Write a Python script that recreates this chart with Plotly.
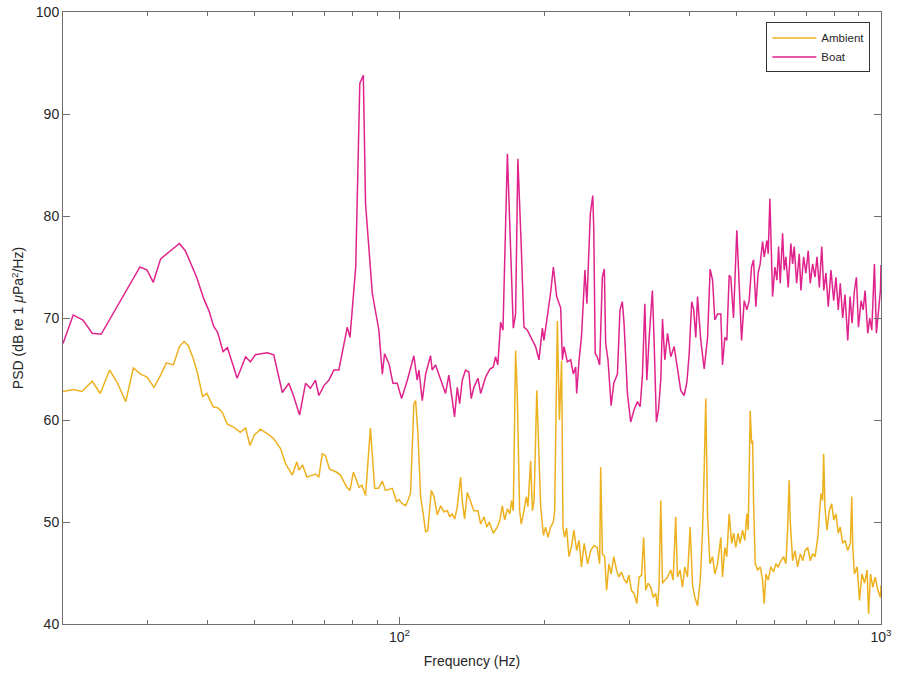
import plotly.graph_objects as go

# ---------------- data (frequency in Hz, PSD in dB re 1 uPa^2/Hz) ----------------
boat_f = [20, 21, 22, 23, 24, 28.9, 29.9, 30.8, 31.9, 34.9, 35.9, 37.9, 39.2, 40.2, 41.1, 41.9,
          43.0, 43.9, 46.0, 47.9, 49.0, 50.2, 53.1, 54.8, 57.1, 58.9, 60.3, 62.0, 63.8, 65.3,
          66.9, 68.0, 69.7, 71.3, 73.1, 74.8, 77.9, 78.9, 81.1, 82.7, 84.1, 85.0, 87.8, 90.6,
          92.1, 93.1, 95.1, 96.9, 98.9, 101.0, 103.8, 107.1, 108.8, 109.7, 111.5, 113.3, 116.0,
          116.9, 118.8, 121.7, 124.6, 126.6, 128.6, 130.1, 131.8, 133.3, 135.0, 137.1, 139.3,
          140.9, 142.7, 145.5, 147.4, 150.9, 154.1, 156.6, 158.3, 160.0, 162.2, 164.0, 167.5,
          170.1, 172.3, 174.2, 176.1, 179.0, 181.3, 184.3, 187.8, 191.7, 194.8, 198.0, 199.5,
          202.7, 206.0, 208.7, 212.0, 216.1, 217.9, 219.6, 223.1, 226.7, 229.6, 232.2, 233.3,
          236.0, 238.7, 242.7, 245.0, 249.0, 252.0, 253.2, 254.9, 257.4, 260.4, 263.8, 266.3,
          268.0, 271.0, 275.1, 278.6, 283.5, 287.0, 290.2, 292.6, 297.4, 302.1, 307.0, 312.0,
          316.0, 319.4, 323.2, 326.3, 329.7, 335.1, 337.7, 341.6, 345.0, 348.8, 351.7, 355.6,
          360.3, 365.9, 371.9, 378.0, 383.8, 390.1, 395.2, 399.6, 404.4, 408.3, 412.4, 415.8,
          422.4, 429.3, 436.3, 441.7, 446.9, 451.7, 457.7, 461.2, 464.8, 468.6, 473.8, 478.3,
          483.8, 487.6, 493.9, 501.8, 507.4, 513.4, 519.9, 526.5, 532.3, 538.4, 543.6, 549.6,
          555.7, 561.1, 567.6, 572.1, 579.5, 583.1, 587.8, 590.5, 595.4, 602.0, 607.8, 612.8,
          617.5, 624.6, 629.4, 634.5, 641.6, 649.9, 655.2, 660.3, 668.0, 676.4, 681.8, 690.7,
          698.3, 706.1, 712.9, 721.2, 729.3, 736.3, 744.6, 753.3, 760.7, 768.5, 777.1, 787.2,
          797.5, 806.2, 815.2, 823.0, 832.6, 841.9, 853.0, 862.5, 870.8, 880.6, 889.2, 897.8,
          909.5, 918.3, 926.6, 938.6, 947.7, 956.9, 969.0, 978.3, 989.6, 997.3, 1000]
boat_db = [67.5, 70.3, 69.8, 68.5, 68.4, 75.0, 74.7, 73.5, 75.8, 77.3, 76.6, 74.0, 71.9, 70.7, 69.2, 68.6,
           66.7, 67.1, 64.1, 66.2, 65.7, 66.4, 66.6, 66.4, 62.7, 63.6, 62.3, 60.5, 63.6, 63.1,
           63.9, 62.4, 63.4, 63.9, 64.9, 64.9, 69.1, 68.1, 75.0, 93.0, 93.8, 81.2, 72.4, 68.8,
           64.5, 66.5, 65.5, 63.6, 63.6, 62.1, 63.9, 66.3, 63.9, 64.9, 61.9, 64.5, 66.3,
           64.9, 65.4, 63.9, 62.6, 64.4, 62.3, 60.3, 63.2, 61.6, 63.9, 64.9, 64.7,
           62.1, 63.2, 64.1, 62.6, 64.2, 65.0, 65.2, 66.2, 65.4, 69.6, 68.8, 86.1,
           76.0, 69.0, 70.4, 85.6, 77.0, 69.1, 68.8, 68.1, 67.2, 65.9, 69.0, 67.8,
           70.1, 72.5, 75.0, 72.1, 71.0, 65.9, 67.2, 65.7, 65.9, 64.5, 65.2, 62.6,
           65.9, 68.1, 74.7, 71.4, 80.2, 82.0, 78.6, 66.5, 66.2, 65.4, 74.0, 74.8,
           67.5, 65.9, 61.4, 63.6, 64.5, 70.8, 71.6, 69.5, 62.6, 59.8, 61.0, 61.8,
           61.3, 64.2, 71.4, 63.9, 67.8, 72.7, 68.1, 59.8, 61.0, 63.9, 69.9, 65.9,
           68.5, 66.2, 67.2, 65.2, 62.9, 62.4, 63.7, 66.5, 71.6, 70.8, 68.1, 72.1,
           67.8, 65.0, 68.1, 74.8, 73.7, 69.8, 70.4, 70.4, 70.4, 65.4, 68.1, 67.8,
           74.2, 74.0, 70.0, 78.6, 74.0, 67.8, 71.7, 70.8, 71.7, 75.0, 75.7, 71.1,
           74.4, 75.3, 77.5, 76.0, 77.6, 76.3, 81.7, 77.3, 72.1, 75.0, 73.7, 77.0,
           73.4, 78.3, 74.7, 76.0, 73.0, 77.3, 75.3, 77.0, 73.4, 76.3, 72.7, 76.0,
           74.4, 76.6, 73.4, 75.3, 74.0, 76.0, 73.0, 77.0, 72.7, 74.4, 71.1, 74.7,
           71.7, 74.0, 70.8, 73.4, 70.0, 72.3, 67.8, 72.1, 69.5, 72.7, 74.0, 69.1,
           71.7, 70.8, 72.7, 68.5, 70.0, 68.8, 75.3, 68.5, 71.1, 72.7, 75.2]

amb_f = [20, 21.0, 21.9, 23.0, 23.9, 25.0, 25.9, 27.0, 28.0, 29.0, 29.9, 30.9, 31.9, 32.8, 33.9,
         34.9, 35.7, 36.4, 37.3, 38.0, 39.0, 39.8, 41.0, 41.9, 42.8, 43.9, 45.2, 46.7, 47.9,
         48.9, 49.9, 51.4, 53.0, 54.7, 56.6, 58.0, 59.9, 61.2, 61.8, 62.9, 64.2, 66.9, 68.0,
         69.1, 70.2, 71.5, 73.9, 75.4, 77.7, 78.9, 80.2, 81.5, 82.4, 83.5, 85.0, 87.0, 88.8,
         90.5, 92.1, 93.5, 96.6, 98.6, 99.7, 101.3, 103.0, 104.1, 105.4, 107.1, 108.0, 109.2,
         110.6, 112.0, 113.3, 114.5, 116.4, 117.9, 119.8, 121.7, 123.6, 125.7, 127.2, 128.6,
         130.2, 131.8, 133.9, 135.0, 136.5, 138.3, 140.4, 142.7, 145.5, 147.4, 149.8, 151.8,
         153.6, 156.6, 159.6, 161.6, 163.5, 165.3, 167.5, 169.5, 170.9, 172.3, 174.2, 175.6,
         177.6, 179.0, 181.3, 183.4, 184.8, 187.2, 188.8, 190.3, 192.8, 194.9, 196.4, 199.0,
         201.1, 203.4, 206.0, 208.7, 210.0, 212.7, 214.8, 217.1, 218.5, 220.2, 222.4, 224.8,
         227.4, 230.2, 233.3, 236.0, 238.7, 241.8, 245.8, 249.5, 253.5, 257.4, 260.4, 261.7,
         263.8, 266.7, 269.2, 272.2, 275.1, 278.6, 282.3, 285.4, 288.9, 292.6, 296.4, 299.6,
         303.1, 307.0, 311.0, 314.5, 318.3, 321.3, 324.6, 328.3, 332.5, 336.7, 340.5, 343.3,
         345.9, 348.8, 351.7, 355.6, 360.3, 365.9, 370.0, 374.7, 377.8, 382.5, 387.0, 391.3,
         396.4, 401.4, 406.1, 410.6, 416.0, 421.3, 426.0, 429.3, 432.6, 436.3, 441.3, 446.9,
         451.7, 457.7, 464.8, 468.6, 473.8, 478.3, 483.8, 489.6, 494.2, 499.4, 504.8, 509.6,
         515.6, 521.4, 526.5, 529.8, 535.0, 538.6, 541.2, 543.9, 548.1, 554.5, 561.4, 567.6,
         572.1, 576.6, 583.0, 590.5, 598.2, 604.9, 611.6, 619.5, 627.6, 634.5, 639.7, 644.6,
         647.7, 655.3, 662.6, 671.3, 679.7, 687.6, 695.3, 704.3, 713.2, 721.5, 729.6, 739.2,
         744.9, 750.3, 756.5, 760.1, 764.9, 772.3, 780.9, 790.0, 797.6, 806.2, 815.2, 823.0,
         832.6, 841.9, 853.0, 863.8, 869.6, 873.8, 880.6, 892.3, 902.4, 913.0, 924.6, 935.6,
         942.2, 951.2, 962.0, 972.5, 985.0, 997.3, 1000]
amb_db = [62.8, 63.0, 62.8, 63.8, 62.6, 64.9, 63.7, 61.8, 65.1, 64.5, 64.2, 63.2, 64.4, 65.6, 65.4,
          67.2, 67.7, 67.3, 66.0, 64.7, 62.3, 62.6, 61.3, 61.2, 60.8, 59.6, 59.3, 58.8, 59.2,
          57.5, 58.5, 59.1, 58.7, 58.2, 57.2, 55.7, 54.6, 55.9, 55.1, 55.6, 54.4, 54.7, 54.4,
          56.7, 56.5, 55.2, 54.9, 54.6, 53.4, 53.1, 54.9, 54.1, 53.4, 53.6, 52.6, 59.2, 53.3,
          53.3, 54.0, 53.1, 53.3, 52.0, 52.2, 51.8, 51.6, 52.1, 52.8, 61.6, 61.9, 58.7,
          52.5, 50.8, 49.0, 49.2, 53.1, 52.5, 50.7, 51.6, 51.0, 51.1, 50.5, 50.8,
          50.3, 51.5, 54.4, 52.1, 50.3, 52.9, 52.1, 51.1, 51.1, 49.8, 50.5, 49.5,
          50.0, 48.9, 49.5, 50.2, 51.6, 50.2, 51.3, 50.8, 52.1, 51.1, 66.8, 62.6,
          51.1, 49.8, 51.1, 52.5, 51.5, 56.0, 51.1, 52.1, 62.9, 54.8, 51.5, 48.7,
          49.5, 48.5, 49.5, 50.0, 51.1, 69.7, 60.0, 65.8, 49.5, 48.5, 49.4, 46.6,
          47.5, 49.2, 47.2, 48.2, 45.6, 47.9, 45.9, 47.2, 47.7, 47.5, 45.9, 55.4,
          46.9, 46.6, 43.3, 45.9, 44.9, 46.6, 45.3, 44.6, 45.1, 44.4, 44.0, 44.8,
          43.3, 43.0, 42.0, 44.6, 44.8, 48.5, 43.3, 44.0, 43.6, 42.6, 43.0, 41.7,
          43.6, 52.1, 44.0, 44.3, 44.6, 45.3, 44.3, 50.5, 44.6, 45.3, 43.6, 45.6,
          44.6, 49.5, 43.8, 42.6, 41.8, 44.3, 49.2, 55.1, 62.1, 50.5, 45.9, 46.6,
          44.9, 45.9, 48.5, 44.6, 47.5, 46.6, 50.8, 47.9, 48.9, 47.5, 48.9, 47.9,
          49.2, 48.2, 50.8, 49.2, 60.9, 57.7, 58.0, 51.5, 45.9, 45.3, 45.6, 44.3,
          42.0, 44.9, 44.3, 45.6, 45.1, 45.9, 45.6, 46.2, 46.6, 45.9, 49.2, 54.1,
          50.2, 46.2, 47.2, 45.6, 46.9, 46.2, 47.2, 47.5, 46.2, 46.9, 46.6, 48.5,
          50.8, 52.8, 52.1, 56.7, 51.5, 49.2, 51.1, 51.8, 50.2, 50.8, 48.9, 49.5,
          47.9, 48.2, 47.2, 47.9, 52.5, 47.5, 44.9, 45.6, 42.3, 44.9, 44.0, 45.3,
          41.0, 44.9, 43.6, 44.6, 43.3, 42.6, 43.8]

x_tickvals = [100, 1000]
x_ticktext = ["10<sup>2</sup>", "10<sup>3</sup>"]
x_minor = [30, 40, 50, 60, 70, 80, 90, 200, 300, 400, 500, 600, 700, 800, 900]
y_tickvals = [40, 50, 60, 70, 80, 90, 100]

AMB_COLOR = "#EDB120"
BOAT_COLOR = "#E0238C"
AX_COLOR = "#6e6e6e"
TXT_COLOR = "#262626"
FONT = "Liberation Sans, Arial, Helvetica, sans-serif"

fig = go.Figure()
fig.add_trace(go.Scatter(x=amb_f, y=amb_db, mode="lines", name="Ambient",
                         line=dict(color=AMB_COLOR, width=1.5)))
fig.add_trace(go.Scatter(x=boat_f, y=boat_db, mode="lines", name="Boat",
                         line=dict(color=BOAT_COLOR, width=1.5)))

fig.update_layout(
    width=898, height=675,
    margin=dict(l=63, r=17, t=12, b=51, autoexpand=False),
    paper_bgcolor="white", plot_bgcolor="white",
    font=dict(family=FONT, size=14, color=TXT_COLOR),
    showlegend=True,
    legend=dict(x=0.987, y=0.983, xanchor="right", yanchor="top",
                bgcolor="white", bordercolor="#333333", borderwidth=1,
                font=dict(size=11.5, color=TXT_COLOR), tracegroupgap=0,
                itemwidth=44),
    xaxis=dict(type="log", range=[1.30103, 3.0], automargin=False,
               tickmode="array", tickvals=x_tickvals, ticktext=x_ticktext,
               ticks="inside", ticklen=7, tickcolor=AX_COLOR, tickwidth=1,
               showline=True, linecolor=AX_COLOR, linewidth=1, mirror="ticks",
               showgrid=False, zeroline=False,
               minor=dict(tickmode="array", tickvals=x_minor, ticks="inside",
                          ticklen=4, tickcolor=AX_COLOR, showgrid=False),
               title=dict(text="Frequency (Hz)", standoff=12,
                          font=dict(size=14, color=TXT_COLOR)),
               tickfont=dict(size=14, color=TXT_COLOR)),
    yaxis=dict(range=[40, 100], tickmode="array", tickvals=y_tickvals, automargin=False,
               ticks="inside", ticklen=7, tickcolor=AX_COLOR, tickwidth=1,
               showline=True, linecolor=AX_COLOR, linewidth=1, mirror="ticks",
               showgrid=False, zeroline=False,
               title=dict(text="PSD (dB re 1 <i>\u03bc</i>Pa<sup>2</sup>/Hz)", standoff=8,
                          font=dict(size=14, color=TXT_COLOR)),
               tickfont=dict(size=14, color=TXT_COLOR)),
)

# remove the browser's default 8 px page margin so the figure sits at the window origin
fig.write_html("out.html", config={"displayModeBar": False},
               post_script="document.body.style.margin='0px';")
